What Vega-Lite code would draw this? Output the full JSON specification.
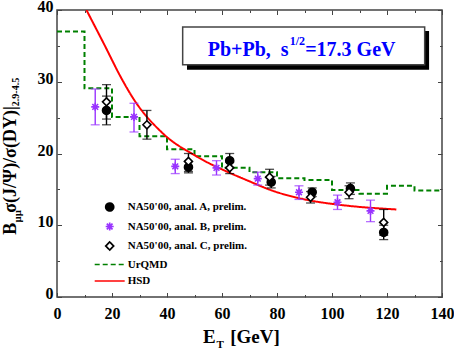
{
  "$schema": "https://vega.github.io/schema/vega-lite/v6.json",
  "width": 385,
  "height": 287,
  "autosize": {"type": "none"},
  "padding": {"left": 57, "top": 10, "right": 12, "bottom": 57},
  "background": "white",
  "config": {
    "view": {"stroke": "#444444", "strokeWidth": 1.5},
    "axis": {"grid": false, "domain": false, "labelFont": "Liberation Serif", "labelFontWeight": "bold", "labelFontSize": 16, "labelColor": "black", "tickColor": "#444444", "tickWidth": 1},
    "legend": {"orient": "none", "legendX": 47.2, "legendY": 191.5, "labelFont": "Liberation Serif", "labelFontWeight": "bold", "labelFontSize": 11, "labelColor": "black", "symbolSize": 64, "symbolStrokeWidth": 1.7, "rowPadding": 4.5, "labelOffset": 12.5, "padding": 0}
  },
  "datasets": {
    "pts": [
      {"series": "NA50'00, anal. A, prelim.", "et": 18.0, "v": 26.0, "lo": 24.0, "hi": 28.0},
      {"series": "NA50'00, anal. A, prelim.", "et": 47.8, "v": 18.1, "lo": 17.3, "hi": 18.9},
      {"series": "NA50'00, anal. A, prelim.", "et": 62.8, "v": 19.0, "lo": 18.0, "hi": 20.0},
      {"series": "NA50'00, anal. A, prelim.", "et": 77.9, "v": 16.0, "lo": 15.2, "hi": 16.8},
      {"series": "NA50'00, anal. A, prelim.", "et": 92.8, "v": 14.6, "lo": 14.0, "hi": 15.2},
      {"series": "NA50'00, anal. A, prelim.", "et": 106.7, "v": 15.1, "lo": 14.3, "hi": 15.9},
      {"series": "NA50'00, anal. A, prelim.", "et": 118.8, "v": 9.0, "lo": 8.0, "hi": 10.0},
      {"series": "NA50'00, anal. B, prelim.", "et": 13.9, "v": 26.5, "lo": 24.0, "hi": 29.0},
      {"series": "NA50'00, anal. B, prelim.", "et": 28.0, "v": 25.1, "lo": 23.0, "hi": 27.0},
      {"series": "NA50'00, anal. B, prelim.", "et": 43.0, "v": 18.2, "lo": 17.2, "hi": 19.2},
      {"series": "NA50'00, anal. B, prelim.", "et": 58.0, "v": 18.0, "lo": 17.0, "hi": 19.0},
      {"series": "NA50'00, anal. B, prelim.", "et": 73.0, "v": 16.5, "lo": 15.6, "hi": 17.4},
      {"series": "NA50'00, anal. B, prelim.", "et": 88.0, "v": 14.6, "lo": 13.6, "hi": 15.5},
      {"series": "NA50'00, anal. B, prelim.", "et": 102.0, "v": 13.2, "lo": 12.2, "hi": 14.2},
      {"series": "NA50'00, anal. B, prelim.", "et": 114.0, "v": 12.0, "lo": 10.5, "hi": 13.5},
      {"series": "NA50'00, anal. C, prelim.", "et": 18.0, "v": 27.2, "lo": 24.8, "hi": 29.6},
      {"series": "NA50'00, anal. C, prelim.", "et": 32.7, "v": 24.0, "lo": 22.0, "hi": 26.0},
      {"series": "NA50'00, anal. C, prelim.", "et": 47.8, "v": 18.9, "lo": 17.5, "hi": 20.0},
      {"series": "NA50'00, anal. C, prelim.", "et": 62.8, "v": 18.0, "lo": 17.2, "hi": 18.8},
      {"series": "NA50'00, anal. C, prelim.", "et": 77.3, "v": 16.7, "lo": 15.6, "hi": 17.8},
      {"series": "NA50'00, anal. C, prelim.", "et": 92.2, "v": 13.9, "lo": 13.1, "hi": 14.7},
      {"series": "NA50'00, anal. C, prelim.", "et": 106.2, "v": 14.6, "lo": 13.7, "hi": 15.5},
      {"series": "NA50'00, anal. C, prelim.", "et": 118.8, "v": 10.4, "lo": 8.6, "hi": 12.2}
    ],
    "urqmd": [
      {"series": "UrQMD", "et": 0, "v": 37.0},
      {"series": "UrQMD", "et": 10, "v": 29.1},
      {"series": "UrQMD", "et": 20, "v": 25.1},
      {"series": "UrQMD", "et": 30, "v": 22.4},
      {"series": "UrQMD", "et": 40, "v": 20.6},
      {"series": "UrQMD", "et": 50, "v": 19.6},
      {"series": "UrQMD", "et": 60, "v": 18.0},
      {"series": "UrQMD", "et": 70, "v": 17.4},
      {"series": "UrQMD", "et": 80, "v": 16.55},
      {"series": "UrQMD", "et": 90, "v": 16.3},
      {"series": "UrQMD", "et": 100, "v": 14.9},
      {"series": "UrQMD", "et": 110, "v": 14.4},
      {"series": "UrQMD", "et": 120, "v": 15.5},
      {"series": "UrQMD", "et": 130, "v": 14.85},
      {"series": "UrQMD", "et": 140, "v": 14.85}
    ],
    "hsd": [
      {"series": "HSD", "et": 10.7, "v": 40.0},
      {"series": "HSD", "et": 17.3, "v": 35.1},
      {"series": "HSD", "et": 23.4, "v": 30.5},
      {"series": "HSD", "et": 27.5, "v": 27.8},
      {"series": "HSD", "et": 38.5, "v": 22.8},
      {"series": "HSD", "et": 50.7, "v": 19.6},
      {"series": "HSD", "et": 62.8, "v": 17.3},
      {"series": "HSD", "et": 68.9, "v": 16.3},
      {"series": "HSD", "et": 78.5, "v": 14.8},
      {"series": "HSD", "et": 90.7, "v": 13.55},
      {"series": "HSD", "et": 102.8, "v": 12.85},
      {"series": "HSD", "et": 123.4, "v": 12.2}
    ]
  },
  "resolve": {"axis": {"x": "independent", "y": "independent"}},
  "layer": [
    {
      "data": {"name": "urqmd"},
      "mark": {"type": "line", "interpolate": "step-after", "strokeWidth": 2, "clip": true},
      "encoding": {
        "x": {"field": "et", "type": "quantitative", "scale": {"domain": [0, 140], "nice": false, "zero": false},
              "axis": {"orient": "bottom", "values": [0, 20, 40, 60, 80, 100, 120, 140], "ticks": false, "labelPadding": 8, "labelFlush": false, "title": null, "labelFont": "Liberation Serif", "labelFontWeight": "bold", "labelFontSize": 16}},
        "y": {"field": "v", "type": "quantitative", "scale": {"domain": [0, 40], "nice": false, "zero": false},
              "axis": {"orient": "left", "values": [0, 10, 20, 30, 40], "ticks": false, "labelPadding": 4, "labelOffset": -3.5, "labelFlush": false, "title": null, "labelFont": "Liberation Serif", "labelFontWeight": "bold", "labelFontSize": 16}},
        "color": {"field": "series", "type": "nominal", "legend": {"title": null, "symbolFillColor": {"expr": "indexof(datum.value, 'anal. C') >= 0 ? 'white' : indexof(datum.value, 'anal. A') >= 0 ? 'black' : 'transparent'"}},
                  "scale": {"domain": ["NA50'00, anal. A, prelim.", "NA50'00, anal. B, prelim.", "NA50'00, anal. C, prelim.", "UrQMD", "HSD"], "range": ["black", "#9933ff", "black", "#008000", "#ff0000"]}},
        "strokeDash": {"field": "series", "type": "nominal", "legend": {"title": null, "symbolFillColor": {"expr": "indexof(datum.value, 'anal. C') >= 0 ? 'white' : indexof(datum.value, 'anal. A') >= 0 ? 'black' : 'transparent'"}},
                  "scale": {"domain": ["NA50'00, anal. A, prelim.", "NA50'00, anal. B, prelim.", "NA50'00, anal. C, prelim.", "UrQMD", "HSD"], "range": [[1, 0], [1, 0], [1, 0], [5, 3], [1, 0]]}}
      }
    },
    {
      "data": {"name": "hsd"},
      "mark": {"type": "line", "interpolate": "monotone", "strokeWidth": 2, "clip": true},
      "encoding": {
        "x": {"field": "et", "type": "quantitative", "scale": {"domain": [0, 140], "nice": false, "zero": false},
              "axis": {"orient": "bottom", "values": [0, 20, 40, 60, 80, 100, 120, 140], "labels": false, "tickSize": -4.5, "title": null}},
        "y": {"field": "v", "type": "quantitative", "scale": {"domain": [0, 40], "nice": false, "zero": false},
              "axis": {"orient": "left", "values": [0, 10, 20, 30, 40], "labels": false, "tickSize": -4.5, "title": null}},
        "color": {"field": "series", "type": "nominal", "legend": {"title": null, "symbolFillColor": {"expr": "indexof(datum.value, 'anal. C') >= 0 ? 'white' : indexof(datum.value, 'anal. A') >= 0 ? 'black' : 'transparent'"}}},
        "strokeDash": {"field": "series", "type": "nominal", "legend": {"title": null, "symbolFillColor": {"expr": "indexof(datum.value, 'anal. C') >= 0 ? 'white' : indexof(datum.value, 'anal. A') >= 0 ? 'black' : 'transparent'"}}}
      }
    },
    {
      "data": {"name": "pts"},
      "transform": [{"filter": "indexof(datum.series, 'anal. B') < 0"}],
      "mark": {"type": "errorbar", "color": "black", "ticks": {"size": 9, "thickness": 1.3}, "rule": {"strokeWidth": 1.4}},
      "encoding": {
        "x": {"field": "et", "type": "quantitative", "scale": {"domain": [0, 140], "nice": false, "zero": false},
              "axis": {"orient": "bottom", "values": [10, 30, 50, 70, 90, 110, 130], "labels": false, "tickSize": -2.5, "title": null}},
        "y": {"field": "lo", "type": "quantitative", "scale": {"domain": [0, 40], "nice": false, "zero": false},
              "axis": {"orient": "left", "values": [5, 15, 25, 35], "labels": false, "tickSize": -2.5, "title": null}},
        "y2": {"field": "hi"}
      }
    },
    {
      "data": {"name": "pts"},
      "transform": [{"filter": "indexof(datum.series, 'anal. B') >= 0"}],
      "mark": {"type": "errorbar", "color": "#9933ff", "ticks": {"size": 9, "thickness": 1.3}, "rule": {"strokeWidth": 1.4}},
      "encoding": {
        "x": {"field": "et", "type": "quantitative", "scale": {"domain": [0, 140], "nice": false, "zero": false}, "axis": null},
        "y": {"field": "lo", "type": "quantitative", "scale": {"domain": [0, 40], "nice": false, "zero": false}, "axis": null},
        "y2": {"field": "hi"}
      }
    },
    {
      "data": {"name": "pts"},
      "mark": {"type": "point", "filled": false, "opacity": 1, "size": 64, "strokeWidth": 1.6},
      "encoding": {
        "x": {"field": "et", "type": "quantitative", "scale": {"domain": [0, 140], "nice": false, "zero": false},
              "axis": {"orient": "top", "values": [0, 20, 40, 60, 80, 100, 120, 140], "labels": false, "tickSize": -4.5, "title": null}},
        "y": {"field": "v", "type": "quantitative", "scale": {"domain": [0, 40], "nice": false, "zero": false},
              "axis": {"orient": "right", "values": [0, 10, 20, 30, 40], "labels": false, "tickSize": -4.5, "title": null}},
        "color": {"field": "series", "type": "nominal", "legend": {"title": null, "symbolFillColor": {"expr": "indexof(datum.value, 'anal. C') >= 0 ? 'white' : indexof(datum.value, 'anal. A') >= 0 ? 'black' : 'transparent'"}}},
        "fill": {"field": "series", "type": "nominal", "legend": {"title": null, "symbolFillColor": {"expr": "indexof(datum.value, 'anal. C') >= 0 ? 'white' : indexof(datum.value, 'anal. A') >= 0 ? 'black' : 'transparent'"}},
                 "scale": {"domain": ["NA50'00, anal. A, prelim.", "NA50'00, anal. B, prelim.", "NA50'00, anal. C, prelim.", "UrQMD", "HSD"], "range": ["black", "#9933ff", "white", "transparent", "transparent"]}},
        "shape": {"field": "series", "type": "nominal", "legend": {"title": null, "symbolFillColor": {"expr": "indexof(datum.value, 'anal. C') >= 0 ? 'white' : indexof(datum.value, 'anal. A') >= 0 ? 'black' : 'transparent'"}},
                  "scale": {"domain": ["NA50'00, anal. A, prelim.", "NA50'00, anal. B, prelim.", "NA50'00, anal. C, prelim.", "UrQMD", "HSD"], "range": ["circle", "M-1,0L1,0M0,-1L0,1M-0.72,-0.72L0.72,0.72M-0.72,0.72L0.72,-0.72", "diamond", "M-3.75,0H3.75", "M-3.75,0H3.75"]}}
      }
    },
    {
      "data": {"values": [{}]},
      "mark": {"type": "rect", "fill": "black"},
      "encoding": {
        "x": {"datum": 47.27, "type": "quantitative", "axis": {"orient": "top", "values": [10, 30, 50, 70, 90, 110, 130], "labels": false, "tickSize": -2.5, "title": null}},
        "x2": {"datum": 135.3},
        "y": {"datum": 37.07, "type": "quantitative", "axis": {"orient": "right", "values": [5, 15, 25, 35], "labels": false, "tickSize": -2.5, "title": null}},
        "y2": {"datum": 31.68}
      }
    },
    {
      "data": {"values": [{}]},
      "mark": {"type": "rect", "fill": "white", "stroke": "#444444", "strokeWidth": 1.5},
      "encoding": {
        "x": {"datum": 45.7, "type": "quantitative", "axis": null},
        "x2": {"datum": 133.7},
        "y": {"datum": 37.63, "type": "quantitative", "axis": null},
        "y2": {"datum": 32.38}
      }
    },
    {
      "data": {"values": [{}]},
      "mark": {"type": "text", "text": "Pb+Pb,\u00a0 s", "font": "Liberation Serif", "fontWeight": "bold", "fontSize": 20, "color": "#0000ff", "align": "left", "baseline": "alphabetic"},
      "encoding": {"x": {"datum": 54.8, "type": "quantitative", "axis": null}, "y": {"datum": 33.63, "type": "quantitative", "axis": null}}
    },
    {
      "data": {"values": [{}]},
      "mark": {"type": "text", "text": "1/2", "font": "Liberation Serif", "fontWeight": "bold", "fontSize": 12, "color": "#0000ff", "align": "left", "baseline": "alphabetic"},
      "encoding": {"x": {"datum": 84.6, "type": "quantitative", "axis": null}, "y": {"datum": 35.16, "type": "quantitative", "axis": null}}
    },
    {
      "data": {"values": [{}]},
      "mark": {"type": "text", "text": "=17.3 GeV", "font": "Liberation Serif", "fontWeight": "bold", "fontSize": 20, "color": "#0000ff", "align": "left", "baseline": "alphabetic"},
      "encoding": {"x": {"datum": 90.25, "type": "quantitative", "axis": null}, "y": {"datum": 33.63, "type": "quantitative", "axis": null}}
    },
    {
      "data": {"values": [{}]},
      "mark": {"type": "text", "text": "E", "font": "Liberation Serif", "fontWeight": "bold", "fontSize": 19, "color": "black", "align": "left", "baseline": "alphabetic"},
      "encoding": {"x": {"datum": 53.1, "type": "quantitative", "axis": null}, "y": {"datum": -6.41, "type": "quantitative", "axis": null}}
    },
    {
      "data": {"values": [{}]},
      "mark": {"type": "text", "text": "T", "font": "Liberation Serif", "fontWeight": "bold", "fontSize": 11, "color": "black", "align": "left", "baseline": "alphabetic"},
      "encoding": {"x": {"datum": 57.96, "type": "quantitative", "axis": null}, "y": {"datum": -7.07, "type": "quantitative", "axis": null}}
    },
    {
      "data": {"values": [{}]},
      "mark": {"type": "text", "text": "[GeV]", "font": "Liberation Serif", "fontWeight": "bold", "fontSize": 19, "color": "black", "align": "left", "baseline": "alphabetic"},
      "encoding": {"x": {"datum": 63.0, "type": "quantitative", "axis": null}, "y": {"datum": -6.41, "type": "quantitative", "axis": null}}
    },
    {
      "data": {"values": [{}]},
      "mark": {"type": "text", "text": "B", "angle": 270, "font": "Liberation Serif", "fontWeight": "bold", "fontSize": 18, "color": "black", "align": "left", "baseline": "alphabetic"},
      "encoding": {"x": {"datum": -14.8, "type": "quantitative", "axis": null}, "y": {"datum": 8.68, "type": "quantitative", "axis": null}}
    },
    {
      "data": {"values": [{}]},
      "mark": {"type": "text", "text": "μμ", "angle": 270, "font": "Liberation Serif", "fontWeight": "bold", "fontSize": 11, "color": "black", "align": "left", "baseline": "alphabetic"},
      "encoding": {"x": {"datum": -13.2, "type": "quantitative", "axis": null}, "y": {"datum": 10.4, "type": "quantitative", "axis": null}}
    },
    {
      "data": {"values": [{}]},
      "mark": {"type": "text", "text": "σ(J/Ψ)/σ(DY)|", "angle": 270, "font": "Liberation Serif", "fontWeight": "bold", "fontSize": 18, "color": "black", "align": "left", "baseline": "alphabetic"},
      "encoding": {"x": {"datum": -14.8, "type": "quantitative", "axis": null}, "y": {"datum": 11.75, "type": "quantitative", "axis": null}}
    },
    {
      "data": {"values": [{}]},
      "mark": {"type": "text", "text": "2.9-4.5", "angle": 270, "font": "Liberation Serif", "fontWeight": "bold", "fontSize": 10, "color": "black", "align": "left", "baseline": "alphabetic"},
      "encoding": {"x": {"datum": -13.75, "type": "quantitative", "axis": null}, "y": {"datum": 26.6, "type": "quantitative", "axis": null}}
    }
  ]
}
